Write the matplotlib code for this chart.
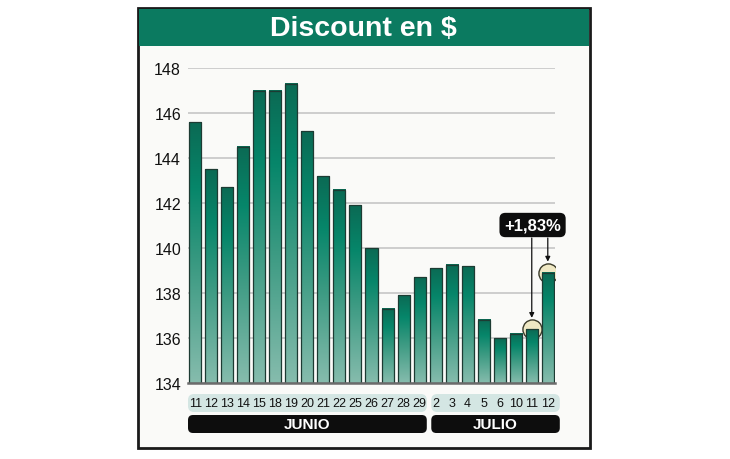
import matplotlib
matplotlib.use('Agg')
import matplotlib.pyplot as plt
import numpy as np
from matplotlib.colors import LinearSegmentedColormap
from matplotlib.patches import Rectangle, FancyBboxPatch
from matplotlib.transforms import blended_transform_factory

# data
days = ['11', '12', '13', '14', '15', '18', '19', '20', '21', '22', '25', '26', '27', '28', '29',
        '2', '3', '4', '5', '6', '10', '11', '12']
values = [145.6, 143.5, 142.7, 144.5, 147.0, 147.0, 147.3, 145.2, 143.2, 142.6, 141.9, 140.0,
          137.3, 137.9, 138.7, 139.1, 139.25, 139.2, 136.8, 136.0, 136.2, 136.4, 138.9]
months = ['JUNIO', 'JULIO']
month_len = [15, 8]
change_label = '+1,83%'
title = 'Discount en $'

plt.rcParams['font.family'] = ['Liberation Sans', 'DejaVu Sans']

W, H = 730, 460
fig = plt.figure(figsize=(W / 100, H / 100), dpi=100)

# overlay in pixel coords (origin top-left)
ov = fig.add_axes([0, 0, 1, 1])
ov.set_xlim(0, W)
ov.set_ylim(H, 0)
ov.axis('off')

ov.add_patch(Rectangle((138, 9), 452, 440, fc='#fafaf8', ec='#1a1a1a', lw=2))
ov.add_patch(Rectangle((139, 10), 450, 37, fc='#0b7a60', ec='none'))
ov.text(363, 29, title, color='white', fontsize=20.5, fontweight='bold', ha='center', va='center')

# main axes
ax = fig.add_axes([188 / W, (H - 384) / H, (555 - 188) / W, (384 - 69) / H])
ax.set_facecolor('none')
ax.set_zorder(2)
n = len(values)
ax.set_yticks(np.arange(134, 149, 2))
ax.set_xticks([])
ax.yaxis.grid(True, color='#cacaca', lw=1.3)
ax.set_axisbelow(True)
for s in ['top', 'right', 'left']:
    ax.spines[s].set_visible(False)
ax.spines['bottom'].set_color('#6b6b6b')
ax.spines['bottom'].set_linewidth(1.8)
ax.spines['bottom'].set_zorder(5)
ax.tick_params(length=0, pad=5, labelsize=11.5, labelcolor='#111111')

cmap = LinearSegmentedColormap.from_list('bar', [(0, '#86bcad'), (0.45, '#3b9a82'),
                                                 (0.75, '#06866a'), (1.0, '#0b6a54')])
grad = np.linspace(0, 1, 256).reshape(-1, 1)
bw = 0.75
for i, v in enumerate(values):
    ax.imshow(grad, extent=[i - bw / 2, i + bw / 2, 134, v], origin='lower', aspect='auto',
              cmap=cmap, zorder=2, interpolation='bilinear')
    ax.add_patch(Rectangle((i - bw / 2, 134), bw, v - 134, fc='none', ec='#1d3b33', lw=0.9, zorder=2.1))
ax.set_xlim(-0.45, n - 0.55)
ax.set_ylim(134, 148)

blend = blended_transform_factory(ax.transData, ov.transData)


def px(x):
    return ov.transData.inverted().transform(ax.transData.transform((x, 134)))[0]


# day labels and month bands
start = 0
for k, (m, ln) in enumerate(zip(months, month_len)):
    end = start + ln - 1
    left = px(start - 0.45 + (0.18 if start > 0 else 0))
    right = px(end + 0.45 + (0.3 if k == len(months) - 1 else 0))
    ov.add_patch(FancyBboxPatch((left, 395), right - left, 18, boxstyle='round,pad=0,rounding_size=6',
                                fc='#d4e6e3', ec='none'))
    ov.add_patch(FancyBboxPatch((left, 416), right - left, 18, boxstyle='round,pad=0,rounding_size=5',
                                fc='#0d0d0d', ec='none'))
    ov.text((left + right) / 2, 425.5, m, color='white', fontsize=11, fontweight='bold',
            ha='center', va='center')
    start = end + 1

for i, d in enumerate(days):
    ax.text(i, 404.5, d, transform=blend, ha='center', va='center', fontsize=9.0,
            color='#111111', clip_on=False)

# change annotation
i1, i2 = n - 2, n - 1
ax.scatter([i1, i2], [values[i1], values[i2]], s=190, fc='#efe8c4', ec='#3a3a2a', lw=1, zorder=1.5)
ax.text(i1 + 0.05, 226, change_label, transform=blend, ha='center', va='center', color='white',
        fontsize=12, fontweight='bold', zorder=6,
        bbox=dict(boxstyle='round,pad=0.28,rounding_size=0.35', fc='#0d0d0d', ec='none'))
for i in (i1, i2):
    ax.annotate('', xy=(i, values[i]), xycoords='data', xytext=(i, 239), textcoords=blend,
                arrowprops=dict(arrowstyle='-|>', color='#111111', lw=0.9, shrinkA=0, shrinkB=8,
                                mutation_scale=7), zorder=5)

fig.savefig('out.png', dpi=100)
